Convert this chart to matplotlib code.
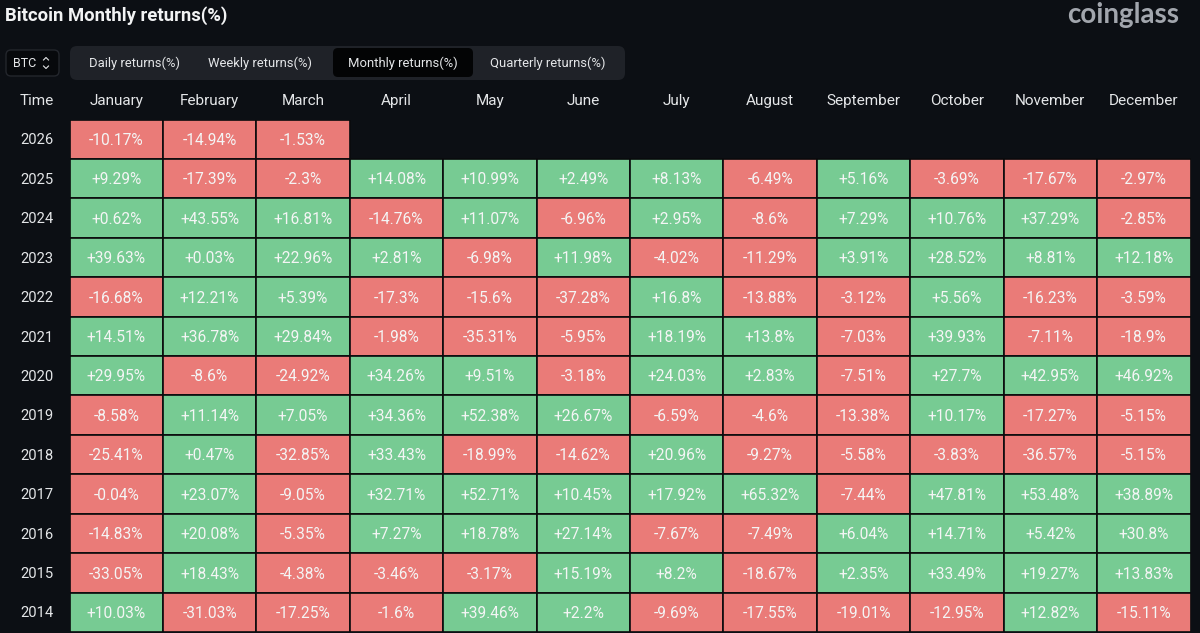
import numpy as np
import matplotlib
matplotlib.use('Agg')
import matplotlib.pyplot as plt
from matplotlib.patches import FancyBboxPatch

plt.rcParams['font.family'] = ['Roboto', 'DejaVu Sans']

months = ['January', 'February', 'March', 'April', 'May', 'June', 'July',
          'August', 'September', 'October', 'November', 'December']
years = [2026, 2025, 2024, 2023, 2022, 2021, 2020, 2019, 2018, 2017, 2016, 2015, 2014]
nan = np.nan
r2026 = [-10.17, -14.94, -1.53, nan, nan, nan, nan, nan, nan, nan, nan, nan]
r2025 = [9.29, -17.39, -2.3, 14.08, 10.99, 2.49, 8.13, -6.49, 5.16, -3.69, -17.67, -2.97]
r2024 = [0.62, 43.55, 16.81, -14.76, 11.07, -6.96, 2.95, -8.6, 7.29, 10.76, 37.29, -2.85]
r2023 = [39.63, 0.03, 22.96, 2.81, -6.98, 11.98, -4.02, -11.29, 3.91, 28.52, 8.81, 12.18]
r2022 = [-16.68, 12.21, 5.39, -17.3, -15.6, -37.28, 16.8, -13.88, -3.12, 5.56, -16.23, -3.59]
r2021 = [14.51, 36.78, 29.84, -1.98, -35.31, -5.95, 18.19, 13.8, -7.03, 39.93, -7.11, -18.9]
r2020 = [29.95, -8.6, -24.92, 34.26, 9.51, -3.18, 24.03, 2.83, -7.51, 27.7, 42.95, 46.92]
r2019 = [-8.58, 11.14, 7.05, 34.36, 52.38, 26.67, -6.59, -4.6, -13.38, 10.17, -17.27, -5.15]
r2018 = [-25.41, 0.47, -32.85, 33.43, -18.99, -14.62, 20.96, -9.27, -5.58, -3.83, -36.57, -5.15]
r2017 = [-0.04, 23.07, -9.05, 32.71, 52.71, 10.45, 17.92, 65.32, -7.44, 47.81, 53.48, 38.89]
r2016 = [-14.83, 20.08, -5.35, 7.27, 18.78, 27.14, -7.67, -7.49, 6.04, 14.71, 5.42, 30.8]
r2015 = [-33.05, 18.43, -4.38, -3.46, -3.17, 15.19, 8.2, -18.67, 2.35, 33.49, 19.27, 13.83]
r2014 = [10.03, -31.03, -17.25, -1.6, 39.46, 2.2, -9.69, -17.55, -19.01, -12.95, 12.82, -15.11]
tabs = ['Daily returns(%)', 'Weekly returns(%)', 'Monthly returns(%)', 'Quarterly returns(%)']

returns = np.array([r2026, r2025, r2024, r2023, r2022, r2021, r2020, r2019,
                    r2018, r2017, r2016, r2015, r2014])

BG = '#0c0f14'
RED = '#ea7b78'
GREEN = '#77cb93'
TXT = '#e4e6e8'
W, H = 1200, 633

fig = plt.figure(figsize=(W / 100, H / 100), dpi=100, facecolor=BG)

# overlay in pixel coordinates for the page furniture
page = fig.add_axes([0, 0, 1, 1])
page.set_xlim(0, W)
page.set_ylim(H, 0)
page.axis('off')

page.text(5, 16, 'Bitcoin Monthly returns(%)', color='#f2f3f4', fontsize=13.3,
          fontweight='bold', va='center', ha='left')
page.text(1123, 15, 'coinglass', color='#a2a6ad', fontsize=20, fontweight='bold',
          family='Lato', va='center', ha='center')

# BTC selector
page.add_patch(FancyBboxPatch((6, 50), 53, 26, boxstyle='round,pad=0,rounding_size=5',
                              fc='#07090c', ec='#23262c', lw=1))
page.text(25, 63.5, 'BTC', color=TXT, fontsize=9, va='center', ha='center')
page.plot([43.5, 46, 48.5], [60, 57.5, 60], color=TXT, lw=0.8)
page.plot([43.5, 46, 48.5], [66, 68.5, 66], color=TXT, lw=0.8)

# tab bar
page.add_patch(FancyBboxPatch((70, 46), 555, 34, boxstyle='round,pad=0,rounding_size=7',
                              fc='#1f2228', ec='none'))
page.add_patch(FancyBboxPatch((333, 48), 140, 29, boxstyle='round,pad=0,rounding_size=5',
                              fc='#030405', ec='none'))
for label, x in zip(tabs, [134.5, 259.5, 403, 547.5]):
    page.text(x, 63.5, label, color=TXT, fontsize=9.4, va='center', ha='center')

# heatmap cells
left, right, top, bottom = 69.5, 1190.5, 119.5, 632
ax = fig.add_axes([left / W, 1 - bottom / H, (right - left) / W, (bottom - top) / H])
ax.set_xlim(0, len(months))
ax.set_ylim(len(years), 0)
ax.axis('off')
ax.patch.set_alpha(0)

for i in range(len(years)):
    for j in range(len(months)):
        v = returns[i, j]
        if np.isnan(v):
            continue
        ax.bar(j + 0.5, 1, width=1, bottom=i, color=GREEN if v >= 0 else RED,
               edgecolor='#0a0b0d', linewidth=1.2)
        ax.text(j + 0.5, i + 0.53, f'{v:+g}%', color='#f4f5f5', fontsize=11.2,
                va='center', ha='center')

# headers go through the same scales as the cells
for j, m in enumerate(months):
    ax.text(j + 0.5, -0.47, m, color=TXT, fontsize=11, va='center', ha='center', clip_on=False)
for i, y in enumerate(years):
    ax.text(-0.35, i + 0.53, str(y), color=TXT, fontsize=10.6, va='center', ha='center', clip_on=False)
ax.text(-0.35, -0.47, 'Time', color=TXT, fontsize=11, va='center', ha='center', clip_on=False)

fig.savefig('out.png', dpi=100, facecolor=BG)
